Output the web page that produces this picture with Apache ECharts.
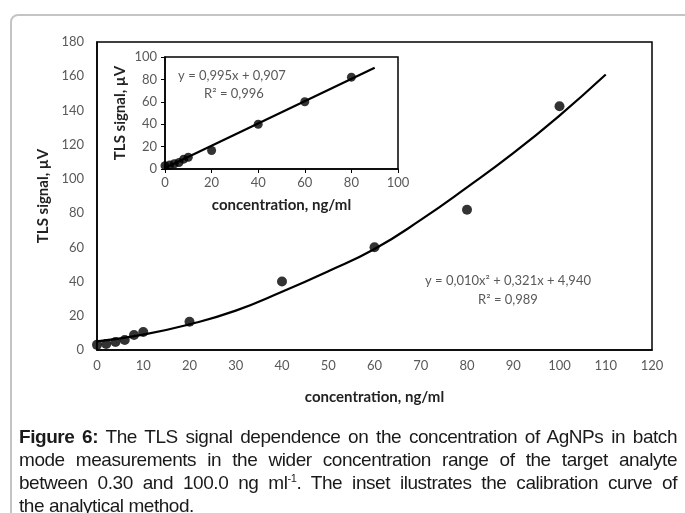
<!DOCTYPE html>
<html>
<head>
<meta charset="utf-8">
<script src="https://cdn.jsdelivr.net/npm/echarts@6/dist/echarts.min.js"></script>
<style>
  html, body { margin: 0; padding: 0; background: #fff; }
  #container { position: absolute; left: 0; top: 0; width: 685px; height: 513px; }
  #caption {
    position: absolute; left: 19px; top: 425px; width: 658px;
    font-family: "Liberation Sans", Arial, sans-serif; font-size: 19px;
    letter-spacing: -0.45px;
    line-height: 23px; color: #1a1a1a;
  }
  #caption div { text-align: justify; text-align-last: justify; white-space: nowrap; }
  #caption div.last { text-align-last: left; }
  #caption sup { font-size: 11px; vertical-align: 7px; line-height: 0; }
</style>
</head>
<body>
<div id="container"></div>
<div id="caption">
  <div><b>Figure 6:</b> The TLS signal dependence on the concentration of AgNPs in batch</div>
  <div>mode measurements in the wider concentration range of the target analyte</div>
  <div>between 0.30 and 100.0 ng ml<sup>-1</sup>. The inset ilustrates the calibration curve of</div>
  <div class="last">the analytical method.</div>
</div>
<script>
// measured points (concentration ng/ml, TLS signal µV)
let conc = [0, 2, 4, 6, 8, 10, 20, 40, 60, 80, 100];
let signal = [3, 3.5, 4.7, 5.8, 8.8, 10.5, 16.5, 40, 60, 82, 142.5];

// polynomial trend curve
let curveX = [0, 10, 20, 30, 40, 50, 60, 70, 80, 90, 100, 110];
let curveY = [5, 9, 15, 23, 34, 46, 59, 76, 95, 115, 137, 161];

// inset: linear part (without the 100 ng/ml point)
let insetConc = conc.slice(0, 10);
let insetSignal = signal.slice(0, 10);
let insetLineX = [0, 90];
let insetLineY = [0.9, 90.5];

let mainEq = ['y = 0,010x\u00b2 + 0,321x + 4,940', 'R\u00b2 = 0,989'];
let insetEq = ['y = 0,995x + 0,907', 'R\u00b2 = 0,996'];

let font = 'Lato, "Open Sans", sans-serif';
let labelColor = '#595959';

function pairs(xs, ys) {
    return xs.map((x, i) => [x, ys[i]]);
}

function valueAxis(gridIndex, min, max, interval, name, gap, ticks, margin) {
    return {
        type: 'value',
        gridIndex: gridIndex,
        min: min,
        max: max,
        interval: interval,
        name: name,
        nameLocation: 'middle',
        nameGap: gap,
        nameTextStyle: { fontFamily: font, fontWeight: 'bold', fontSize: 15, color: '#222' },
        axisLine: { show: true, lineStyle: { color: '#000', width: 1.5 } },
        axisTick: { show: ticks, length: 4, lineStyle: { color: '#000' } },
        axisLabel: { color: labelColor, fontFamily: font, fontSize: 13, margin: margin },
        splitLine: { show: false }
    };
}

let dom = document.getElementById('container');
let myChart = echarts.init(dom, null, { renderer: 'canvas' });

let option = {
    animation: false,
    backgroundColor: '#fff',
    grid: [
        { left: 97, top: 42, right: 33, bottom: 163, show: true, borderColor: '#000', borderWidth: 1.5 },
        { left: 165, top: 57, right: 287, bottom: 344, show: true, borderColor: '#000', borderWidth: 1.5, backgroundColor: '#fff' }
    ],
    xAxis: [
        valueAxis(0, 0, 120, 10, 'concentration, ng/ml', 40, false, 9),
        valueAxis(1, 0, 100, 20, 'concentration, ng/ml', 29, true, 7)
    ],
    yAxis: [
        valueAxis(0, 0, 180, 20, 'TLS signal, \u00b5V', 44, false, 13),
        valueAxis(1, 0, 100, 20, 'TLS signal, \u00b5V', 37, true, 8)
    ],
    graphic: [
        {
            type: 'rect', silent: true, z: -1,
            shape: { x: 11, y: 15, width: 720, height: 560, r: 7 },
            style: { fill: null, stroke: '#c4c4c4', lineWidth: 2 }
        },
        {
            type: 'text', x: 508, y: 281,
            style: { text: mainEq[0], fill: labelColor, font: '13px ' + font, align: 'center', verticalAlign: 'middle' }
        },
        {
            type: 'text', x: 508, y: 300,
            style: { text: mainEq[1], fill: labelColor, font: '13px ' + font, align: 'center', verticalAlign: 'middle' }
        },
        {
            type: 'text', x: 232, y: 76, z: 10,
            style: { text: insetEq[0], fill: labelColor, font: '13px ' + font, align: 'center', verticalAlign: 'middle' }
        },
        {
            type: 'text', x: 234, y: 94, z: 10,
            style: { text: insetEq[1], fill: labelColor, font: '13px ' + font, align: 'center', verticalAlign: 'middle' }
        }
    ],
    series: [
        {
            type: 'line',
            xAxisIndex: 0, yAxisIndex: 0,
            data: pairs(curveX, curveY),
            smooth: true,
            showSymbol: false,
            lineStyle: { color: '#000', width: 2.2 }
        },
        {
            type: 'scatter',
            xAxisIndex: 0, yAxisIndex: 0,
            data: pairs(conc, signal),
            symbolSize: 10,
            itemStyle: { color: '#000' }
        },
        {
            type: 'line',
            xAxisIndex: 1, yAxisIndex: 1,
            data: pairs(insetLineX, insetLineY),
            showSymbol: false,
            lineStyle: { color: '#000', width: 2.2 }
        },
        {
            type: 'scatter',
            xAxisIndex: 1, yAxisIndex: 1,
            data: pairs(insetConc, insetSignal),
            symbolSize: 9,
            itemStyle: { color: '#000' }
        }
    ]
};
myChart.setOption(option);
</script>
</body>
</html>
